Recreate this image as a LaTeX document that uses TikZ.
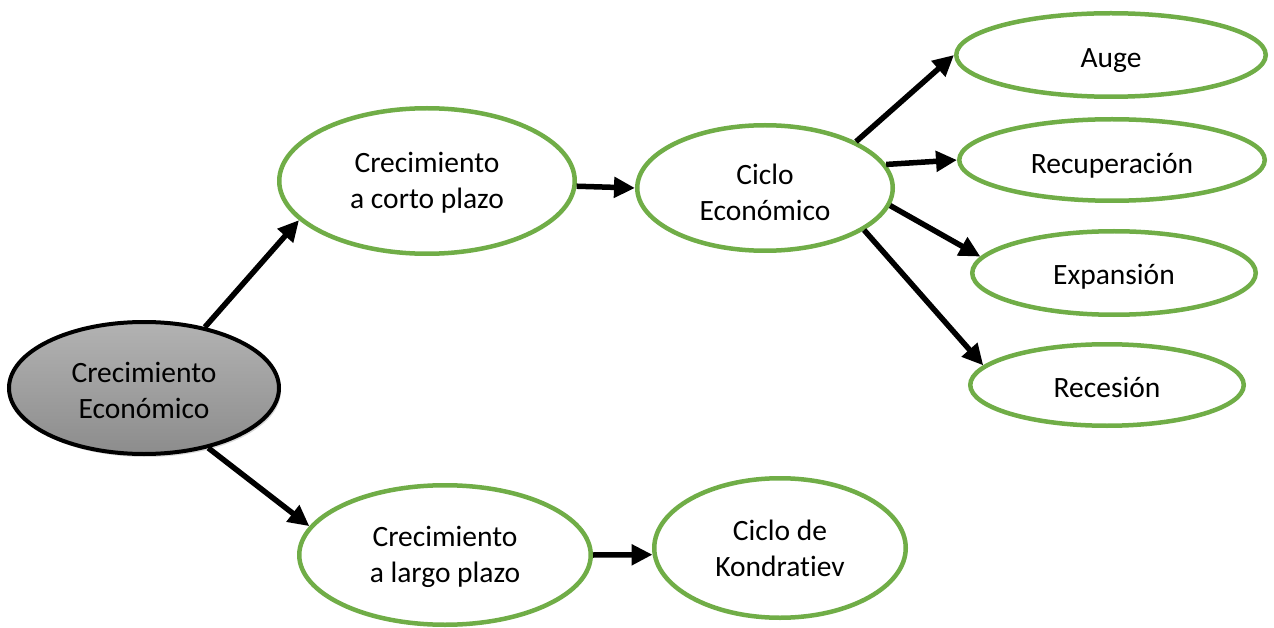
\documentclass[tikz,border=0pt]{standalone}
\usepackage{fontspec}
\setmainfont[Ligatures=NoCommon]{Carlito}
\usetikzlibrary{shapes.geometric,arrows.meta,shadows}
\definecolor{ogreen}{RGB}{112,173,71}
\begin{document}
\begin{tikzpicture}[x=1pt,y=-1pt,
  every node/.style={font=\fontsize{29.5}{36}\selectfont, align=center, text=black},
  gnode/.style={ellipse, draw=ogreen, line width=4.5pt, fill=white, inner sep=0pt},
  rootnode/.style={ellipse, draw=black, line width=4pt, inner sep=0pt,
     top color=black!30, bottom color=black!45,
     drop shadow={opacity=0.3, shadow xshift=2pt, shadow yshift=-3pt}},
  conn/.style={line width=5.5pt, -{Triangle[length=21pt,width=20pt]}}]
\useasboundingbox (0,0) rectangle (1274,628);
\node[rootnode, minimum width=270pt, minimum height=132pt] (ge) at (144,388) {};
\node[gnode, minimum width=295.5pt, minimum height=145.5pt] (cp) at (427,181) {};
\node[gnode, minimum width=255.5pt, minimum height=125.5pt] (ce) at (765,188) {};
\node[gnode, minimum width=309.5pt, minimum height=83.5pt] (auge) at (1111,55) {};
\node[gnode, minimum width=305.5pt, minimum height=81.5pt] (rec) at (1112,160) {};
\node[gnode, minimum width=283.5pt, minimum height=83.5pt] (exp) at (1114,273) {};
\node[gnode, minimum width=273.5pt, minimum height=81.5pt] (res) at (1107,385) {};
\node[gnode, minimum width=291.5pt, minimum height=139.5pt] (lp) at (445,555) {};
\node[gnode, minimum width=251.5pt, minimum height=139.5pt] (kd) at (780,548) {};
\node (tge) at ([yshift=-2pt]ge.center) {Crecimiento\\Económico};
\node (tcp) at ([yshift=-2pt]cp.center) {Crecimiento\\a corto plazo};
\node (tce) at ([yshift=-4.5pt]ce.center) {Ciclo\\Económico};
\node (tauge) at ([yshift=-6pt]auge.center) {Auge};
\node (trec) at ([yshift=-6pt]rec.center) {Recuperación};
\node (texp) at ([yshift=-4pt]exp.center) {Expansión};
\node (tres) at ([yshift=-2pt]res.center) {Recesión};
\node (tlp) at ([yshift=-1.5pt]lp.center) {Crecimiento\\a largo plazo};
\node (tkd) at (kd.center) {Ciclo de\\Kondratiev};
\draw[conn] (ge.45.9) -- (cp.197.5);
\draw[conn] (ge.-43.7) -- (lp.168.9);
\draw[conn] (cp.-2.4) -- (ce.180.4);
\draw[conn] (ce.27.1) -- (auge.180);
\draw[conn] (ce.11.1) -- (rec.180.8);
\draw[conn] (ce.-8) -- (exp.173.8);
\draw[conn] (ce.-23) -- (res.171.5);
\draw[conn] (lp.-0.8) -- (kd.183.7);
\end{tikzpicture}
\end{document}
